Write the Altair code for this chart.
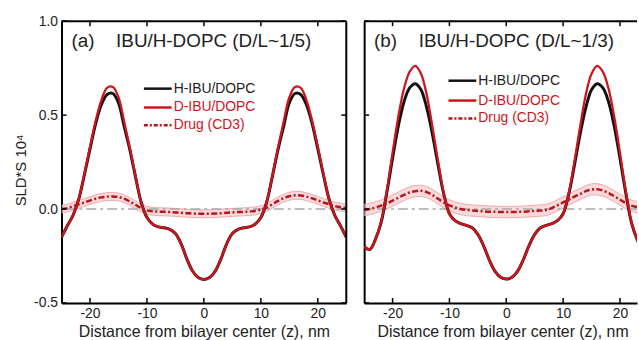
import altair as alt
import pandas as pd

# ---------------- data ----------------
Z = list(range(-25, 26))

# Panel (a)  IBU/H-DOPC (D/L~1/5)
A_H = [-0.15, -0.09, -0.035, 0.05, 0.18, 0.32, 0.455, 0.555, 0.61, 0.615, 0.565, 0.44, 0.315,
       0.17, 0.035, -0.045, -0.08, -0.095, -0.10, -0.108, -0.13, -0.185, -0.265, -0.33, -0.365,
       -0.375,
       -0.365, -0.33, -0.265, -0.185, -0.13, -0.108, -0.10, -0.095, -0.08, -0.045, 0.035, 0.17,
       0.315, 0.44, 0.565, 0.615, 0.61, 0.555, 0.455, 0.32, 0.18, 0.05, -0.035, -0.09, -0.15]
A_D = [-0.15, -0.09, -0.035, 0.05, 0.185, 0.33, 0.47, 0.58, 0.645, 0.65, 0.595, 0.465, 0.325,
       0.175, 0.035, -0.045, -0.08, -0.095, -0.10, -0.108, -0.13, -0.185, -0.265, -0.33, -0.365,
       -0.375,
       -0.365, -0.33, -0.265, -0.185, -0.13, -0.108, -0.10, -0.095, -0.08, -0.045, 0.035, 0.175,
       0.325, 0.465, 0.595, 0.65, 0.645, 0.58, 0.47, 0.33, 0.185, 0.05, -0.035, -0.09, -0.15]
A_DRUG = [0.0, 0.005, 0.015, 0.025, 0.035, 0.045, 0.055, 0.062, 0.066, 0.067, 0.064, 0.055,
          0.04, 0.022, 0.005, -0.007, -0.012, -0.014, -0.015, -0.016, -0.018, -0.02, -0.022,
          -0.024, -0.025, -0.025,
          -0.025, -0.024, -0.022, -0.02, -0.018, -0.016, -0.015, -0.013, -0.01, -0.003, 0.008,
          0.025, 0.043, 0.058, 0.068, 0.073, 0.072, 0.066, 0.057, 0.046, 0.035, 0.025, 0.016,
          0.01, 0.005]

# Panel (b)  IBU/H-DOPC (D/L~1/3)
B_H = [-0.20, -0.215, -0.16, -0.07, 0.09, 0.27, 0.44, 0.57, 0.645, 0.667, 0.635, 0.54, 0.40,
       0.235, 0.08, -0.025, -0.062, -0.078, -0.087, -0.10, -0.135, -0.195, -0.27, -0.33, -0.363,
       -0.373,
       -0.363, -0.33, -0.27, -0.195, -0.135, -0.10, -0.087, -0.078, -0.062, -0.025, 0.08, 0.235,
       0.40, 0.54, 0.635, 0.667, 0.645, 0.57, 0.44, 0.27, 0.09, -0.07, -0.16, -0.215, -0.20]
B_D = [-0.20, -0.215, -0.16, -0.065, 0.10, 0.30, 0.49, 0.64, 0.73, 0.762, 0.72, 0.61, 0.44,
       0.255, 0.085, -0.025, -0.062, -0.078, -0.087, -0.10, -0.135, -0.195, -0.27, -0.33, -0.363,
       -0.373,
       -0.363, -0.33, -0.27, -0.195, -0.135, -0.10, -0.087, -0.078, -0.062, -0.025, 0.085, 0.255,
       0.44, 0.61, 0.72, 0.762, 0.73, 0.64, 0.49, 0.30, 0.10, -0.065, -0.16, -0.215, -0.20]
B_DRUG = [-0.005, 0.0, 0.008, 0.018, 0.03, 0.045, 0.06, 0.075, 0.088, 0.095, 0.097, 0.09,
          0.075, 0.055, 0.035, 0.02, 0.008, 0.0, -0.005, -0.008, -0.01, -0.012, -0.014, -0.015,
          -0.016, -0.016,
          -0.016, -0.015, -0.014, -0.012, -0.01, -0.008, -0.005, 0.005, 0.02, 0.035, 0.05, 0.066,
          0.08, 0.095, 0.104, 0.105, 0.098, 0.085, 0.068, 0.05, 0.032, 0.018, 0.01, 0.003,
          -0.005]

DRUG_ERR = [0.021, 0.03]

XTICKS = [-20, -10, 0, 10, 20]
YTICKS = [-0.5, 0.0, 0.5, 1.0]
LEGEND_LABELS = ["H-IBU/DOPC", "D-IBU/DOPC", "Drug (CD3)"]
PANEL_TAGS = ["(a)", "(b)"]
PANEL_TITLES = ["IBU/H-DOPC (D/L~1/5)", "IBU/H-DOPC (D/L~1/3)"]
X_TITLE = "Distance from bilayer center (z), nm"
Y_TITLE = "SLD*S 10\u2074"

# ---------------- style ----------------
FONT = "Liberation Sans"
BLACK = "#111111"
RED = "#d0141c"
DRUG_RED = "#b8141c"
PINK = "#f8c9cc"
PINK_EDGE = "#efa9ad"
TXT = "#222222"
H = 284
CURVE = "catmull-rom"

LEG_COLORS = [BLACK, RED, DRUG_RED]
LEG_TEXT_COLORS = [TXT, RED, RED]


def make_panel(idx, h, d, drug, xmax, width, first, leg_x, leg_y, title_x):
    err = DRUG_ERR[idx]
    df = pd.DataFrame({
        "z": Z, "h": h, "d": d, "drug": drug,
        "lo": [v - err for v in drug], "hi": [v + err for v in drug],
    })
    xscale = alt.Scale(domain=[-25, xmax], nice=False, zero=False)
    yscale = alt.Scale(domain=[-0.5, 1.0], nice=False, zero=False)
    xaxis = alt.Axis(
        values=XTICKS, ticks=False, grid=False, domain=True, domainColor="black",
        domainWidth=2, labelFontSize=14, labelPadding=4, labelColor=TXT,
        labelExpr="datum.value < 0 ? '-' + format(-datum.value, 'd') : format(datum.value, 'd')",
        title=X_TITLE, titleFontSize=16, titleFontWeight="normal", titleColor=TXT,
        titlePadding=3, titleX=title_x,
    )
    if first:
        yaxis = alt.Axis(
            values=YTICKS, ticks=False, grid=False, domain=True, domainColor="black",
            domainWidth=2, labelFontSize=14, labelPadding=4, labelColor=TXT,
            labelExpr="datum.value < 0 ? '-' + format(-datum.value, '.1f') : format(datum.value, '.1f')",
            title=Y_TITLE, titleFontSize=15, titleFontWeight="normal", titleColor=TXT,
            titleY=150, titlePadding=5,
        )
    else:
        yaxis = alt.Axis(values=YTICKS, ticks=False, labels=False, grid=False, domain=True,
                         domainColor="black", domainWidth=2, title=None)

    def X(f):
        return alt.X(f, type="quantitative", scale=xscale, axis=xaxis)

    def Y(f):
        return alt.Y(f, type="quantitative", scale=yscale, axis=yaxis)

    base = alt.Chart(df)
    band = base.mark_area(color=PINK, opacity=0.7, interpolate=CURVE, clip=True).encode(
        x=X("z"), y=Y("lo"), y2=alt.Y2("hi"))
    band_lo = base.mark_line(color=PINK_EDGE, strokeWidth=1, interpolate=CURVE, clip=True).encode(
        x=X("z"), y=Y("lo"))
    band_hi = base.mark_line(color=PINK_EDGE, strokeWidth=1, interpolate=CURVE, clip=True).encode(
        x=X("z"), y=Y("hi"))
    zero = alt.Chart(pd.DataFrame({"y0": [0.0]})).mark_rule(
        color="#a9a9a9", strokeWidth=1.5, strokeDash=[10, 4, 3, 4]).encode(y=Y("y0"))
    black = base.mark_line(color=BLACK, strokeWidth=3, interpolate=CURVE, clip=True).encode(
        x=X("z"), y=Y("h"))
    red = base.mark_line(color=RED, strokeWidth=2.3, interpolate=CURVE, clip=True).encode(
        x=X("z"), y=Y("d"))
    drg = base.mark_line(color=DRUG_RED, strokeWidth=2.5, strokeDash=[6, 2.5, 2, 2.5],
                         interpolate=CURVE, clip=True).encode(x=X("z"), y=Y("drug"))

    one = alt.Chart(pd.DataFrame({"k": [0]}))
    txd = alt.Chart(pd.DataFrame({"t": XTICKS}))
    tyd = alt.Chart(pd.DataFrame({"t": YTICKS}))
    frame = [
        one.mark_rule(color="black", strokeWidth=2).encode(
            x=alt.value(0), x2=alt.value(width), y=alt.value(0)),
        txd.mark_rule(color="black", strokeWidth=1.5).encode(
            x=X("t"), y=alt.value(H), y2=alt.value(H - 5)),
        txd.mark_rule(color="black", strokeWidth=1.5).encode(
            x=X("t"), y=alt.value(0), y2=alt.value(5)),
        tyd.mark_rule(color="black", strokeWidth=1.5).encode(
            y=Y("t"), x=alt.value(0), x2=alt.value(5)),
    ]
    if first:
        frame += [
            one.mark_rule(color="black", strokeWidth=2).encode(
                x=alt.value(width), y=alt.value(0), y2=alt.value(H)),
            tyd.mark_rule(color="black", strokeWidth=1.5).encode(
                y=Y("t"), x=alt.value(width - 5), x2=alt.value(width)),
        ]

    legend = []
    for i, lab in enumerate(LEGEND_LABELS):
        kw = dict(color=LEG_COLORS[i], strokeWidth=2.5)
        if i == 2:
            kw["strokeDash"] = [4, 2, 2, 2]
        legend.append(one.mark_rule(**kw).encode(
            x=alt.value(leg_x), x2=alt.value(leg_x + 28), y=alt.value(leg_y[i])))
        legend.append(one.mark_text(align="left", baseline="middle", fontSize=14,
                                    color=LEG_TEXT_COLORS[i], text=lab).encode(
            x=alt.value(leg_x + 30), y=alt.value(leg_y[i])))

    texts = [
        one.mark_text(align="left", baseline="middle", fontSize=19, color=TXT,
                      text=PANEL_TAGS[idx]).encode(x=alt.value(10), y=alt.value(20)),
        one.mark_text(align="left", baseline="middle", fontSize=19, color=TXT,
                      text=PANEL_TITLES[idx]).encode(x=alt.value(55), y=alt.value(20)),
    ]

    layers = [band, band_lo, band_hi, zero, black, red, drg] + frame + legend + texts
    return alt.layer(*layers).properties(width=width, height=H)


pa = make_panel(0, A_H, A_D, A_DRUG, 25, 287, True, 83, [68, 87, 105], 143.5)
pb = make_panel(1, B_H, B_D, B_DRUG, 23.0, 275, False, 85, [60, 80, 98], 139.5)

chart = (
    alt.hconcat(pa, pb, spacing=14)
    .properties(padding={"left": 13, "top": 12, "right": 0, "bottom": 0})
    .configure(font=FONT)
    .configure_view(stroke="transparent")
)

chart.save("out.html", embed_options={"renderer": "svg", "actions": False})
